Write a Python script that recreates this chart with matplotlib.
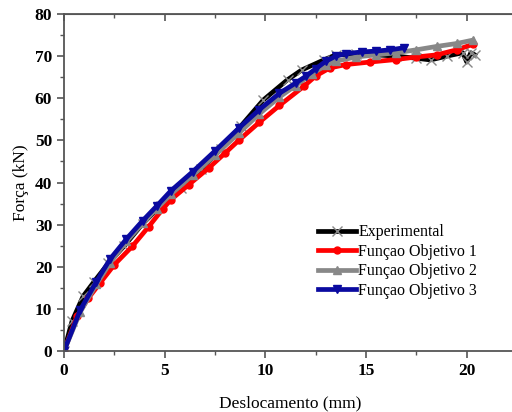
import matplotlib
matplotlib.use("Agg")
import matplotlib.pyplot as plt

exp_x = [0, 0.4, 0.95, 1.5, 2.2, 3.0, 3.9, 4.8, 5.8, 6.8, 7.8, 8.8, 9.9, 11.1, 11.8, 12.9,
         13.5, 14.5, 15.5, 16.5, 17.5, 18.2, 19.0, 19.8, 20.0, 20.2, 20.4]
exp_y = [0, 7.1, 13.0, 16.5, 20.8, 25.0, 30.2, 34.5, 38.8, 43.2, 48.0, 53.5, 59.6, 64.4, 66.7, 69.1,
         70.3, 70.5, 70.3, 70.0, 69.5, 69.1, 70.0, 70.8, 68.6, 70.8, 70.3]

f1_x = [0, 0.65, 1.2, 1.8, 2.5, 3.4, 4.2, 4.9, 5.3, 6.2, 7.2, 8.0, 8.7, 9.7, 10.7, 11.9,
        12.5, 13.2, 14.0, 15.2, 16.5, 17.5, 18.5, 19.5, 20.3]
f1_y = [0, 8.3, 12.5, 16.2, 20.5, 24.9, 29.5, 33.7, 35.9, 39.5, 43.5, 47.0, 50.1, 54.3, 58.3, 62.8,
        65.3, 67.2, 68.0, 68.6, 69.2, 69.8, 70.3, 71.5, 72.8]

f2_x = [0, 0.8, 1.6, 2.3, 3.1, 3.9, 4.6, 5.3, 6.4, 7.5, 8.7, 9.7, 10.7, 11.5, 12.3, 13.0,
        13.5, 14.5, 15.5, 16.5, 17.5, 18.5, 19.5, 20.3]
f2_y = [0, 9.2, 15.8, 21.0, 26.0, 30.3, 33.8, 37.2, 41.8, 46.5, 51.8, 56.3, 60.3, 63.0, 65.8, 67.8,
        68.8, 69.8, 70.3, 70.8, 71.5, 72.3, 73.0, 73.8]

f3_x = [0, 0.8, 1.6, 2.3, 3.1, 3.9, 4.6, 5.3, 6.4, 7.5, 8.7, 9.7, 10.7, 11.5, 12.0, 12.5,
        13.0, 13.5, 14.0, 14.8, 15.5, 16.2, 16.9]
f3_y = [0, 9.7, 16.4, 21.9, 26.6, 30.9, 34.4, 38.0, 42.6, 47.5, 53.0, 57.3, 61.2, 63.6, 65.2, 67.0,
        68.8, 70.0, 70.6, 71.0, 71.2, 71.5, 72.0]

labels = ["Experimental", "Funçao Objetivo 1", "Funçao Objetivo 2", "Funçao Objetivo 3"]

plt.rcParams['font.family'] = ['Liberation Serif', 'DejaVu Serif']

fig = plt.figure(figsize=(5.12, 4.12), dpi=100)
ax = fig.add_axes([0.125, 0.148, 0.885, 0.818])

lw = 3.4
ax.plot(exp_x, exp_y, color='black', lw=lw, marker='x', ms=7, mec='#888888', mew=1, label=labels[0])
ax.plot(f1_x, f1_y, color='red', lw=lw, marker='o', ms=5, label=labels[1])
ax.plot(f2_x, f2_y, color='#888888', lw=lw, marker='^', ms=6, label=labels[2])
ax.plot(f3_x, f3_y, color='#0a0aa0', lw=lw, marker='v', ms=6, label=labels[3])

ax.set_xlim(0, 22.5)
ax.set_ylim(0, 80)
ax.set_xticks([0, 5, 10, 15, 20])
ax.set_xticks([2.5, 7.5, 12.5, 17.5, 22.5], minor=True)
ax.set_yticks(range(0, 81, 10))
ax.set_yticks(range(5, 80, 10), minor=True)

for s in ax.spines.values():
    s.set_color('#555555')
    s.set_linewidth(1.3)

ax.tick_params(which='major', direction='out', length=5, width=1.2, color='#555555', labelsize=12.5)
ax.tick_params(which='minor', direction='out', length=3, width=1.0, color='#555555')
for t in ax.get_xticklabels() + ax.get_yticklabels():
    t.set_fontweight('bold')

top = ax.secondary_xaxis('top')
top.set_xticks([0, 5, 10, 15, 20])
top.set_xticks([2.5, 7.5, 12.5, 17.5, 22.5], minor=True)
top.tick_params(which='major', direction='in', length=5, width=1.2, color='#555555', labeltop=False)
top.tick_params(which='minor', direction='in', length=3, width=1.0, color='#555555')
top.spines['top'].set_color('#555555')

ax.set_xlabel("Deslocamento (mm)", fontsize=12.5, labelpad=12)
ax.set_ylabel("Força (kN)", fontsize=12.5, labelpad=4)

ax.legend(loc='upper left', bbox_to_anchor=(0.56, 0.376), frameon=False, fontsize=11.5,
          handlelength=2.4, handletextpad=0.15, labelspacing=0.22, borderpad=0, borderaxespad=0)

fig.savefig("out.png", dpi=100)
